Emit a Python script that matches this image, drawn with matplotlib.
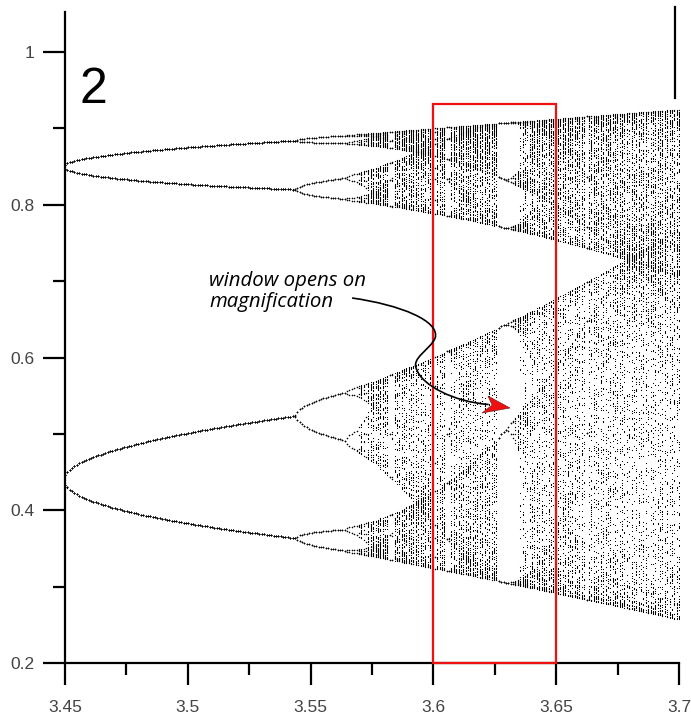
import numpy as np
import matplotlib
matplotlib.use("Agg")
import matplotlib.pyplot as plt
from matplotlib.path import Path
from matplotlib.patches import PathPatch, Polygon, Rectangle

# ---- data / parameters of the logistic-map bifurcation diagram ----
r_min, r_max = 3.45, 3.7
n_r = 260            # number of parameter columns
n_transient = 600    # discarded iterations
n_keep = 210         # plotted iterations per column
x0 = 0.5

x_ticks = [3.45, 3.5, 3.55, 3.6, 3.65, 3.7]
x_ticklabels = ["3.45", "3.5", "3.55", "3.6", "3.65", "3.7"]
x_minor = [3.475, 3.525, 3.575, 3.625, 3.675]
y_ticks = [0.2, 0.4, 0.6, 0.8, 1.0]
y_ticklabels = ["0.2", "0.4", "0.6", "0.8", "1"]
y_minor = [0.3, 0.5, 0.7, 0.9]

window_r = (3.6, 3.65)
window_x = (0.2, 0.932)

# ---- compute the orbit ----
r = np.linspace(r_min, r_max, n_r)
x = np.full_like(r, x0)
for _ in range(n_transient):
    x = r * x * (1 - x)
rs, xs = [], []
for _ in range(n_keep):
    x = r * x * (1 - x)
    rs.append(r.copy())
    xs.append(x.copy())
rs = np.concatenate(rs)
xs = np.concatenate(xs)

# ---- figure ----
fig = plt.figure(figsize=(6.91, 7.16), dpi=100)
ax = fig.add_axes([65 / 691, 53 / 716, 614 / 691, 651 / 716])
ax.set_xlim(r_min, r_max)
ax.set_ylim(0.2, 1.0524)

ax.plot(rs, xs, "s", color="black", markersize=0.75, markeredgewidth=0)

for s in ["top", "right"]:
    ax.spines[s].set_visible(False)
for s in ["left", "bottom"]:
    ax.spines[s].set_linewidth(1.6)

ax.set_xticks(x_ticks)
ax.set_xticklabels(x_ticklabels)
ax.set_xticks(x_minor, minor=True)
ax.set_yticks(y_ticks)
ax.set_yticklabels(y_ticklabels)
ax.set_yticks(y_minor, minor=True)
ax.tick_params(which="major", length=16, width=1.6, direction="out",
               labelsize=12.5, labelcolor="#444444", pad=11,
               labelfontfamily="Liberation Sans")
ax.tick_params(which="minor", length=8.5, width=1.6, direction="out")
ax.tick_params(axis="y", which="major", pad=6)

# red window rectangle
ax.add_patch(Rectangle((window_r[0], window_x[0]), window_r[1] - window_r[0],
                       window_x[1] - window_x[0], fill=False, edgecolor="#ee1111",
                       linewidth=1.6, zorder=5, clip_on=False))

# short vertical line at top right
ax.plot([3.6985, 3.6985], [0.94, 1.059], color="black", lw=1.6,
        clip_on=False)

# panel label
ax.text(0.024, 0.860, "2", transform=ax.transAxes, fontsize=36,
        fontfamily="Liberation Sans", va="baseline", ha="left")

# annotation
ax.text(3.5088, 0.7135, "window opens on\nmagnification", fontsize=14.7,
        fontstyle="italic", fontfamily="Open Sans", va="top", ha="left",
        linespacing=1.05)

verts = [(3.5669, 0.6779),
         (3.5865, 0.6690), (3.6028, 0.6479), (3.6007, 0.6255),
         (3.5987, 0.6098), (3.5905, 0.5994), (3.5933, 0.5836),
         (3.5955, 0.5640), (3.6080, 0.5420), (3.6225, 0.5385)]
codes = [Path.MOVETO] + [Path.CURVE4] * 9
ax.add_patch(PathPatch(Path(verts, codes), fill=False, edgecolor="black",
                       lw=1.2, zorder=6, clip_on=False))
head = [(3.6312, 0.5339), (3.6222, 0.5496), (3.6239, 0.5378), (3.6198, 0.5273)]
ax.add_patch(Polygon(head, closed=True, facecolor="#ee1111",
                     edgecolor="#661111", lw=0.4, zorder=7))

fig.savefig("out.png", dpi=100)
